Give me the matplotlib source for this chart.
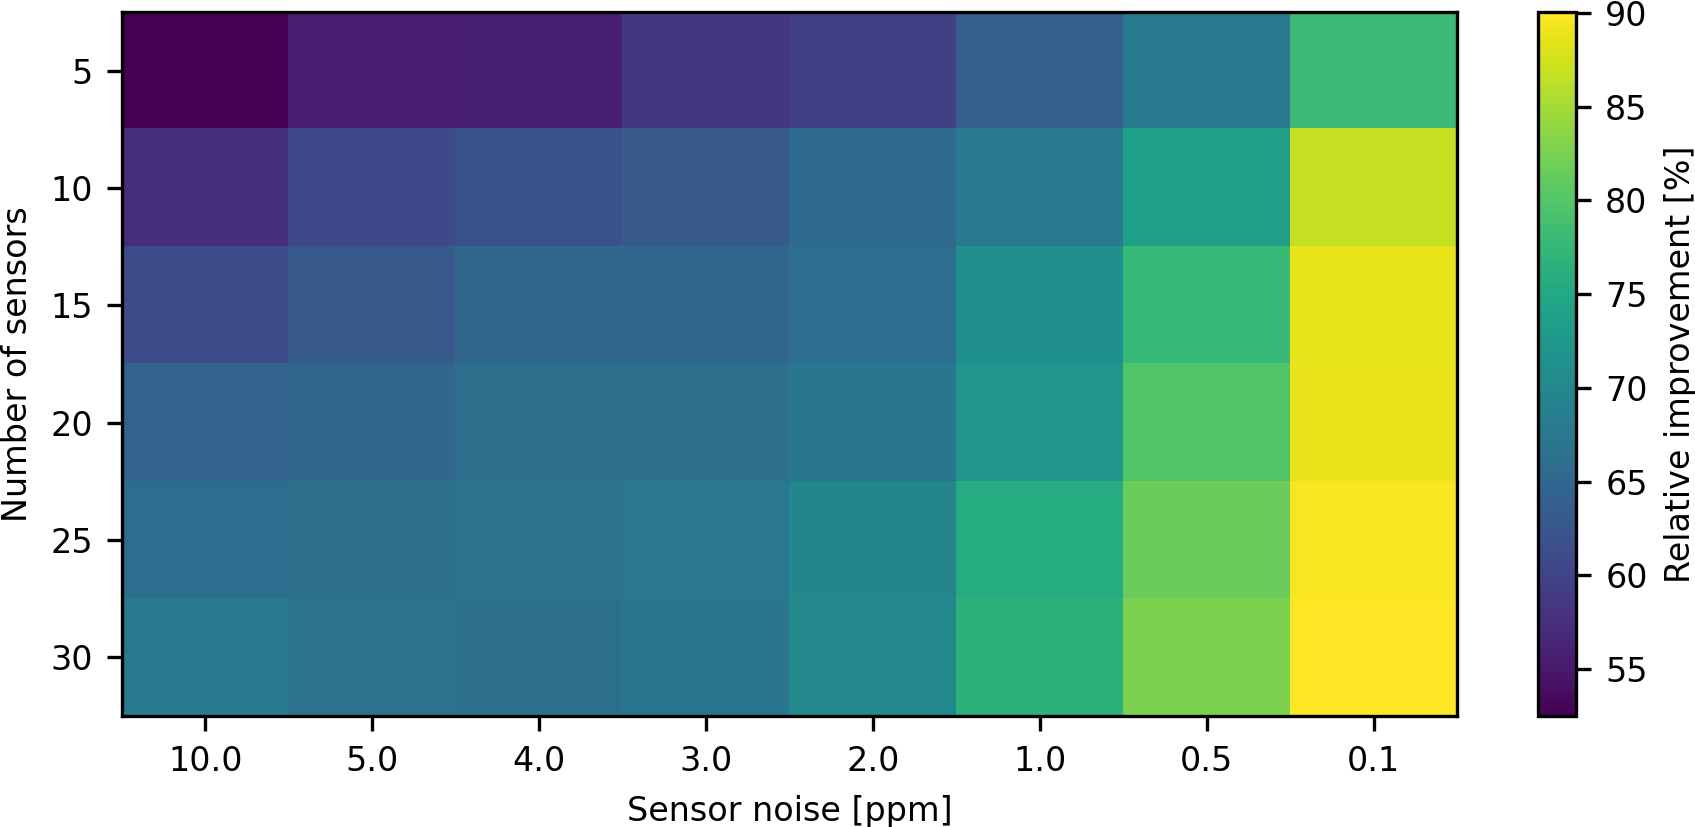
# heatmap of relative improvement vs. sensor noise and number of sensors
import matplotlib
matplotlib.use('Agg')
import matplotlib.pyplot as plt
import numpy as np


noise_labels: list = ['10.0', '5.0', '4.0', '3.0', '2.0', '1.0', '0.5', '0.1']
sensor_counts: list = [5, 10, 15, 20, 25, 30]

# relative improvement [%], one row per sensor count, columns follow noise_labels
improvement_5: list = [52.5, 55.5, 55.8, 58.5, 59.6, 63.8, 67.9, 78.1]
improvement_10: list = [57.4, 60.8, 61.9, 63.0, 65.7, 67.9, 73.9, 86.7]
improvement_15: list = [61.2, 63.0, 64.9, 64.9, 66.0, 71.3, 77.7, 88.6]
improvement_20: list = [64.5, 64.9, 66.4, 66.4, 67.2, 72.1, 79.9, 89.0]
improvement_25: list = [66.0, 66.4, 66.8, 67.5, 69.8, 75.8, 81.5, 89.7]
improvement_30: list = [67.9, 66.8, 66.4, 67.2, 70.2, 76.6, 82.6, 90.05]


def plot_improvement_map():
    improvement: np.ndarray = np.array([improvement_5, improvement_10, improvement_15,
                                        improvement_20, improvement_25, improvement_30])

    plt.rcParams['font.size'] = 8

    fig = plt.figure(figsize = (1695 / 300, 827 / 300), dpi = 300)
    ax = fig.add_axes([0.0720, 0.1342, 0.7876, 0.8513])
    cax = fig.add_axes([0.9074, 0.1342, 0.0224, 0.8513])

    image = ax.imshow(X = improvement, cmap = 'viridis', aspect = 'auto',
                      vmin = improvement.min(), vmax = improvement.max())

    ax.set_xticks(range(len(noise_labels)))
    ax.set_xticklabels(noise_labels)
    ax.set_yticks(range(len(sensor_counts)))
    ax.set_yticklabels([str(n) for n in sensor_counts])
    ax.set_xlabel('Sensor noise [ppm]')
    ax.set_ylabel('Number of sensors')

    colorbar = fig.colorbar(image, cax = cax)
    colorbar.set_label('Relative improvement [%]')
    colorbar.set_ticks([55, 60, 65, 70, 75, 80, 85, 90])

    fig.savefig('out.png', dpi = 300)


plot_improvement_map()
